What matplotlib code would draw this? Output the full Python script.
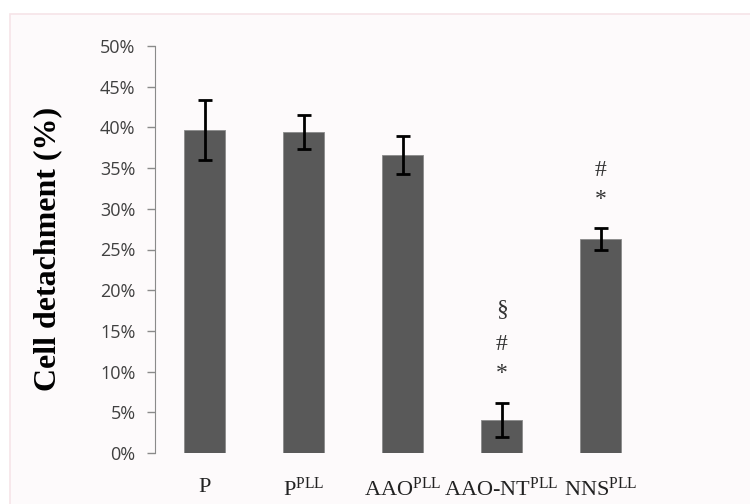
import matplotlib
matplotlib.use('Agg')
import matplotlib.pyplot as plt
from matplotlib.patches import Rectangle
from matplotlib.ticker import FuncFormatter, MultipleLocator

plt.rcParams['mathtext.fontset'] = 'custom'
plt.rcParams['mathtext.rm'] = 'Liberation Serif'
plt.rcParams['mathtext.it'] = 'Liberation Serif:italic'
plt.rcParams['mathtext.bf'] = 'Liberation Serif:bold'

# data
groups = ['P', r'P$^{\mathrm{PLL}}$', r'AAO$^{\mathrm{PLL}}$',
          r'AAO-NT$^{\mathrm{PLL}}$', r'NNS$^{\mathrm{PLL}}$']
detach = [39.7, 39.4, 36.6, 4.1, 26.3]
err = [3.7, 2.1, 2.3, 2.1, 1.3]
marks = [[], [], [], ['*', '#', '§'], ['*', '#']]

fig = plt.figure(figsize=(7.5, 5.04), dpi=100)
fig.patch.set_facecolor('white')
fig.patches.append(Rectangle((10 / 750, -0.05), 1, 1.05 - 14 / 504, transform=fig.transFigure,
                             facecolor='#fdfafb', edgecolor='#f6e4e8', linewidth=1.2, zorder=-5))

ax = fig.add_axes([155 / 750, 51 / 504, 495 / 750, 407 / 504])
ax.set_facecolor('none')

x = range(len(groups))
ax.bar(x, detach, width=0.42, color='#595959', edgecolor='#8a8a8a', linewidth=0.6,
       yerr=err, error_kw=dict(ecolor='black', elinewidth=2, capsize=5, capthick=2))

step = [0, 3.5, 7.8]
for i, m in enumerate(marks):
    base = detach[i] + err[i] + 3.6
    for k, s in enumerate(m):
        ax.text(i, base + step[k], s, ha='center', va='center', fontsize=17,
                family='Liberation Serif', color='#333333')

ax.set_xlim(-0.5, 4.5)
ax.set_ylim(0, 50)
ax.yaxis.set_major_locator(MultipleLocator(5))
ax.yaxis.set_major_formatter(FuncFormatter(lambda v, p: '%d%%' % round(v)))
ax.set_xticks(list(x))
ax.set_xticklabels(groups, fontsize=16, family='Liberation Serif', color='#222222')
ax.tick_params(axis='x', length=0, pad=18)
ax.tick_params(axis='y', direction='out', length=6, width=1, color='#8a8a8a',
               labelsize=13, labelcolor='#404040', pad=8)
for lab in ax.get_yticklabels():
    lab.set_family('Open Sans')

for s in ['top', 'right', 'bottom']:
    ax.spines[s].set_visible(False)
ax.spines['left'].set_color('#8a8a8a')

fig.text(48 / 750, 1 - 249 / 504, 'Cell detachment (%)', rotation=90, ha='center', va='center',
         fontsize=23, fontweight='bold', family='Liberation Serif')

fig.savefig('out.png', dpi=100, facecolor=fig.get_facecolor())
